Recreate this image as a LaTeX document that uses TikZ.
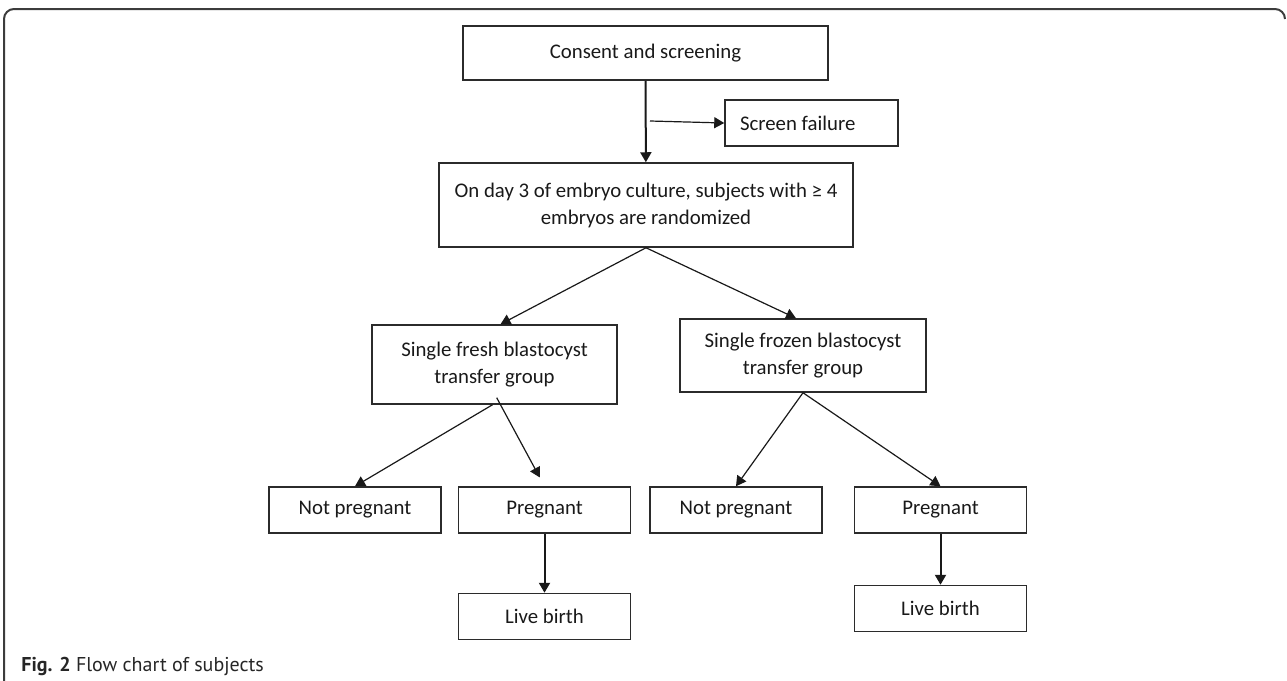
\documentclass[tikz,border=0pt]{standalone}
\usepackage{fontspec}
\setmainfont{Carlito}
\newfontfamily\capfont{PT Sans}
\usetikzlibrary{arrows.meta,positioning}
\definecolor{linegray}{HTML}{2B2B2B}
\definecolor{framegray}{HTML}{3C3C3C}
\tikzset{
  box/.style={draw=linegray, line width=0.75pt, align=center, inner sep=0pt,
              minimum width=86pt, minimum height=23pt, text=black!90,
              font=\fontsize{10.4}{13.5}\selectfont},
  flow/.style={-{Triangle[length=5pt,width=5.5pt]}, line width=1pt, draw=black!90},
  thinflow/.style={flow, line width=0.6pt},
}

\begin{document}
\begin{tikzpicture}[x=0.5pt, y=-0.5pt, node distance=8pt and 8pt]
  \useasboundingbox (0,0) rectangle (1287,681);
  % outer frame
  \draw[framegray, line width=1pt, rounded corners=5pt] (1285,19) -- (1285,9) -- (4,9) -- (4,681);

  \node[box, minimum width=182.5pt, minimum height=27pt] (consent) at (645.5,53) {Consent and screening};
  \node[box, minimum width=86.5pt] (screen) at (811.5,123) {\makebox[71.5pt][l]{Screen failure}};
  \node[box, minimum width=207pt, minimum height=42pt] (rand) at (646,205)
       {On day 3 of embryo culture, subjects with ≥ 4\\ embryos are randomized};
  \node[box, minimum width=122.5pt, minimum height=39.5pt] (fresh) at (494.5,364.5)
       {Single fresh blastocyst\\ transfer group};
  \node[box, minimum width=123pt, minimum height=36.5pt] (frozen) at (803,355.5)
       {Single frozen blastocyst\\ transfer group};
  \node[box] (np1) at (355,510) {Not pregnant};
  \node[box, right=of np1] (preg1) {Pregnant};
  \node[box, below=29.5pt of preg1] (live1) {Live birth};
  \node[box] (np2) at (736,510) {Not pregnant};
  \node[box, right=15.5pt of np2] (preg2) {Pregnant};
  \node[box, below=25.5pt of preg2] (live2) {Live birth};
  \coordinate (split) at (650,121);

  \node[anchor=base west, inner sep=0pt, text=black!85,
        font=\capfont\fontsize{10}{12}\selectfont] (caption) at (21,671)
       {\textbf{Fig. 2} Flow chart of subjects};

  \draw[flow] (consent) -- (rand);
  \draw[thinflow] (split) -- (screen.west);
  \draw[thinflow] (rand.south) -- ([xshift=3pt]fresh.north);
  \draw[thinflow] (rand.south) -- ([xshift=-3.5pt]frozen.north);
  \draw[thinflow] ([xshift=-1pt]fresh.south) -- (np1.north);
  \draw[thinflow, shorten <=-4pt, shorten >=5pt] ([xshift=3pt]fresh.south) -- (preg1.north);
  \draw[thinflow] (frozen.south) -- (np2.north);
  \draw[thinflow] (frozen.south) -- (preg2.north);
  \draw[flow] (preg1) -- (live1);
  \draw[flow] (preg2) -- (live2);
\end{tikzpicture}
\end{document}
